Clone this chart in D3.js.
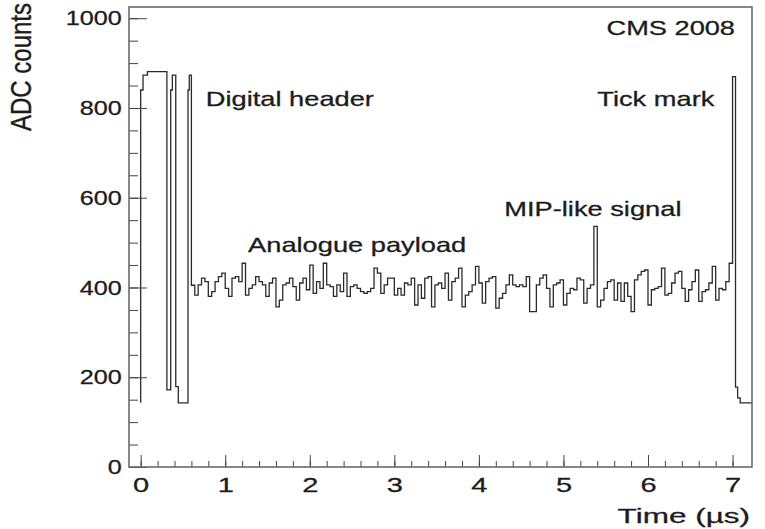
<!DOCTYPE html>
<html>
<head>
<meta charset="utf-8">
<script src="https://cdn.jsdelivr.net/npm/d3@7"></script>
<style>
	body { margin: 0; background: #fff; }
	text { font-family: "Liberation Sans", Arial, sans-serif; fill: #1c1c1c; stroke: #1c1c1c; stroke-width: 0.3; }
</style>
</head>
<body>
<div id="viz"></div>
<script>
// header bits: start time of each bin (us) and ADC value
var headerStarts = [0, 0.028, 0.08, 0.31, 0.355, 0.375, 0.415, 0.445, 0.56, 0.575];
var headerValues = [840, 873, 881, 172, 840, 873, 179, 143, 840, 873];

// analogue payload, bins of 0.04 us starting at 0.6 us
var payloadStart = 0.6;
var payloadWidth = 0.04;
var payloadValues = [
	405, 383, 406, 421, 413, 380, 391, 413, 424, 432,
	398, 380, 421, 424, 413, 454, 383, 398, 406, 424,
	413, 406, 380, 410, 421, 357, 372, 406, 410, 421,
	402, 372, 410, 421, 395, 450, 387, 413, 398, 454,
	406, 402, 380, 406, 391, 432, 380, 402, 406, 398,
	391, 387, 391, 398, 443, 432, 387, 406, 421, 421,
	383, 398, 383, 410, 406, 421, 361, 406, 376, 421,
	424, 357, 406, 410, 398, 432, 372, 413, 421, 443,
	357, 383, 391, 406, 447, 410, 365, 413, 421, 424,
	354, 376, 387, 406, 428, 406, 402, 406, 402, 424,
	346, 346, 406, 421, 428, 398, 357, 406, 410, 417,
	361, 387, 398, 395, 421, 417, 365, 398, 406, 536,
	357, 372, 398, 413, 417, 372, 410, 369, 410, 380,
	346, 417, 428, 436, 439, 361, 395, 398, 402, 443,
	383, 387, 410, 432, 436, 398, 369, 395, 413, 439,
	369, 391, 395, 410, 447, 372, 398, 395, 413, 454
];

// tick mark and tail
var tailStarts = [7.0, 7.035, 7.06, 7.09];
var tailValues = [870, 178, 154, 143];
var baseValue = 143;

var xMajor = [0, 1, 2, 3, 4, 5, 6, 7];
var yMajor = [0, 200, 400, 600, 800, 1000];

var labels = [
	{text: "Digital header", t: 0.77, v: 805},
	{text: "Analogue payload", t: 1.27, v: 480},
	{text: "MIP-like signal", t: 4.3, v: 560},
	{text: "Tick mark", t: 5.4, v: 805}
];

var width = 765, height = 529;

var svg = d3.select("#viz")
	.append("svg")
	.attr("width", width)
	.attr("height", height);

var x = d3.scaleLinear().domain([-0.138, 7.23]).range([129, 752]);
var y = d3.scaleLinear().domain([0, 1025]).range([467, 7]);

// build step points
var pts = [{t: 0, v: baseValue}];
headerStarts.forEach(function(t, i){ pts.push({t: t, v: headerValues[i]}); });
payloadValues.forEach(function(v, i){ pts.push({t: payloadStart + i * payloadWidth, v: v}); });
tailStarts.forEach(function(t, i){ pts.push({t: t, v: tailValues[i]}); });
pts.push({t: x.domain()[1], v: baseValue});

var line = d3.line()
	.x(function(d){ return x(d.t); })
	.y(function(d){ return y(d.v); })
	.curve(d3.curveStepAfter);

svg.append("path")
	.datum(pts)
	.attr("d", line)
	.attr("fill", "none")
	.attr("stroke", "#2a2a2a")
	.attr("stroke-width", 1.3);

// x axis: minor then major ticks, pointing up into the frame
var xMinor = d3.range(0, 36).map(function(i){ return i * 0.2; });
svg.append("g")
	.attr("transform", "translate(0,467)")
	.call(d3.axisBottom(x).tickValues(xMinor).tickSizeInner(-6).tickSizeOuter(0).tickFormat(""))
	.call(function(g){ g.select(".domain").remove(); g.selectAll("line").attr("stroke", "#444"); });

var xAx = svg.append("g")
	.attr("transform", "translate(0,467)")
	.call(d3.axisBottom(x).tickValues(xMajor).tickSizeInner(-12).tickSizeOuter(0).tickPadding(10).tickFormat(d3.format("d")))
	.call(function(g){ g.select(".domain").remove(); g.selectAll("line").attr("stroke", "#444"); });
xAx.selectAll("text")
	.attr("font-size", 21)
	.attr("fill", "#1c1c1c")
	.attr("transform", "scale(1.38,1)");

// y axis
var yMinor = d3.range(0, 21).map(function(i){ return i * 50; });
svg.append("g")
	.attr("transform", "translate(129,0)")
	.call(d3.axisLeft(y).tickValues(yMinor).tickSizeInner(-9).tickSizeOuter(0).tickFormat(""))
	.call(function(g){ g.select(".domain").remove(); g.selectAll("line").attr("stroke", "#444"); });

var yAx = svg.append("g")
	.attr("transform", "translate(129,0)")
	.call(d3.axisLeft(y).tickValues(yMajor).tickSizeInner(-18).tickSizeOuter(0).tickPadding(6).tickFormat(d3.format("d")))
	.call(function(g){ g.select(".domain").remove(); g.selectAll("line").attr("stroke", "#444"); });
yAx.selectAll("text")
	.attr("font-size", 21)
	.attr("fill", "#1c1c1c")
	.attr("transform", "scale(1.2,1)");

// frame
svg.append("rect")
	.attr("x", 129).attr("y", 7)
	.attr("width", 752 - 129).attr("height", 467 - 7)
	.attr("fill", "none")
	.attr("stroke", "#6a6a6a")
	.attr("stroke-width", 1.6);

// axis titles
svg.append("text")
	.attr("transform", "translate(750,523) scale(1.5,1)")
	.attr("text-anchor", "end")
	.attr("font-size", 21)
	.text("Time (\u00b5s)");

svg.append("text")
	.attr("transform", "translate(31,3) rotate(-90) scale(1,1.2)")
	.attr("text-anchor", "end")
	.attr("font-size", 24)
	.text("ADC counts");

svg.append("text")
	.attr("transform", "translate(735,35) scale(1.36,1)")
	.attr("text-anchor", "end")
	.attr("font-size", 20)
	.text("CMS 2008");

// annotations
svg.selectAll(".note")
	.data(labels)
	.enter()
	.append("text")
	.attr("class", "note")
	.attr("transform", function(d){ return "translate(" + x(d.t) + "," + y(d.v) + ") scale(1.33,1)"; })
	.attr("font-size", 20.5)
	.text(function(d){ return d.text; });
</script>
</body>
</html>
